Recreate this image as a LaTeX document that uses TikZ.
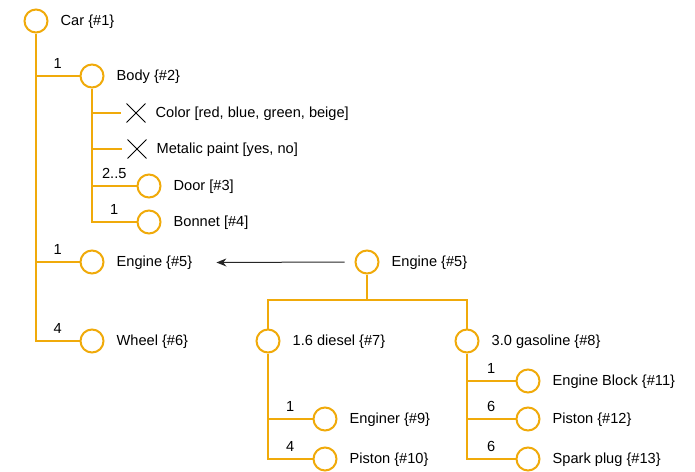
\documentclass[tikz,border=0pt]{standalone}
\usepackage{fontspec}
\setmainfont{Liberation Sans}
\usetikzlibrary{arrows.meta, positioning, shapes.misc}

\definecolor{featorange}{RGB}{240,170,10}

\begin{document}
\begin{tikzpicture}[
  x=1pt, y=-1pt,
  >=Stealth,
  every node/.style = {font=\fontsize{14.6}{16}\selectfont, text=black},
  %-- feature styles -----------------------------------------------------
  feat/.style     = {draw=featorange, line width=2pt, circle,
                     minimum size=23pt, inner sep=0pt},
  attr/.style     = {draw, cross out, line width=0.9pt,
                     minimum size=18pt, inner sep=0pt},
  ftext/.style    = {anchor=west, inner sep=0pt, xshift=12pt, yshift=-0.5pt},
  link/.style     = {featorange, line width=1.3pt},
  card/.style     = {above, inner sep=0pt, yshift=7pt},
  reuse/.style    = {->, line width=1pt, black!85,
                     >={Stealth[length=10pt, width=8pt]}},
]
\useasboundingbox (0,0) rectangle (695,471);

% ── Car tree ──────────────────────────────────────────────────────────────────
\node[feat] (car)    at (36,21)  {};
\node[ftext] (cartx) at (car.east) {Car \{\#1\}};

\node[feat] (body)   at (92,76)  {};
\node[ftext] (bodytx) at (body.east) {Body \{\#2\}};
\node[feat] (engA)   at (92,262) {};
\node[ftext] (engAtx) at (engA.east) {Engine \{\#5\}};
\node[feat] (wheel)  at (92,341) {};
\node[ftext] (wheeltx) at (wheel.east) {Wheel \{\#6\}};

\draw[link] (car.south) |- (wheel.west) node[card, pos=0.75] {4};
\draw[link] (car.south|-body) -- node[card] {1} (body.west);
\draw[link] (car.south|-engA) -- node[card] {1} (engA.west);

% ── Body children ─────────────────────────────────────────────────────────────
\node[attr] (color)  at (136,113) {};
\node[ftext, xshift=-2pt] (colortx) at (color.east) {Color [red, blue, green, beige]};
\node[attr] (paint)  at (137,149) {};
\node[ftext, xshift=-2pt] (painttx) at (paint.east) {Metalic paint [yes, no]};
\node[feat] (door)   at (149,186) {};
\node[ftext] (doortx) at (door.east) {Door [\#3]};
\node[feat] (bonnet) at (149,222) {};
\node[ftext] (bonnettx) at (bonnet.east) {Bonnet [\#4]};

\draw[link] (body.south) |- (bonnet.west) node[card, pos=0.75] {1};
\draw[link] (body.south|-door) -- node[card] {2..5} (door.west);
\draw[link] (body.south|-color) -- ([xshift=-6pt]color.west);
\draw[link] (body.south|-paint) -- ([xshift=-6pt]paint.west);

% ── Engine tree ───────────────────────────────────────────────────────────────
\node[feat] (engB)   at (367,262) {};
\node[ftext] (engBtx) at (engB.east) {Engine \{\#5\}};

\draw[reuse] ([xshift=-10pt]engB.west) -- ([xshift=24pt]engAtx.east);

\node[feat] (diesel) at (268,341) {};
\node[ftext] (dieseltx) at (diesel.east) {1.6 diesel \{\#7\}};
\node[feat] (gas)    at (467,341) {};
\node[ftext] (gastx) at (gas.east) {3.0 gasoline \{\#8\}};

\coordinate (split) at (367,300);
\draw[link] (engB.south) -- (split) -| (diesel.north);
\draw[link] (split) -| (gas.north);

% ── 1.6 diesel children ───────────────────────────────────────────────────────
\node[feat] (enginer) at (325,419) {};
\node[ftext] (enginertx) at (enginer.east) {Enginer \{\#9\}};
\node[feat] (pistonA) at (325,459) {};
\node[ftext] (pistonAtx) at (pistonA.east) {Piston \{\#10\}};

\draw[link] (diesel.south) |- (pistonA.west) node[card, pos=0.75] {4};
\draw[link] (diesel.south|-enginer) -- node[card] {1} (enginer.west);

% ── 3.0 gasoline children ─────────────────────────────────────────────────────
\node[feat] (block)   at (528,381) {};
\node[ftext] (blocktx) at (block.east) {Engine Block \{\#11\}};
\node[feat] (pistonB) at (528,419) {};
\node[ftext] (pistonBtx) at (pistonB.east) {Piston \{\#12\}};
\node[feat] (spark)   at (528,459) {};
\node[ftext] (sparktx) at (spark.east) {Spark plug \{\#13\}};

\draw[link] (gas.south) |- (spark.west) node[card, pos=0.75] {6};
\draw[link] (gas.south|-block) -- node[card] {1} (block.west);
\draw[link] (gas.south|-pistonB) -- node[card] {6} (pistonB.west);

\end{tikzpicture}
\end{document}
